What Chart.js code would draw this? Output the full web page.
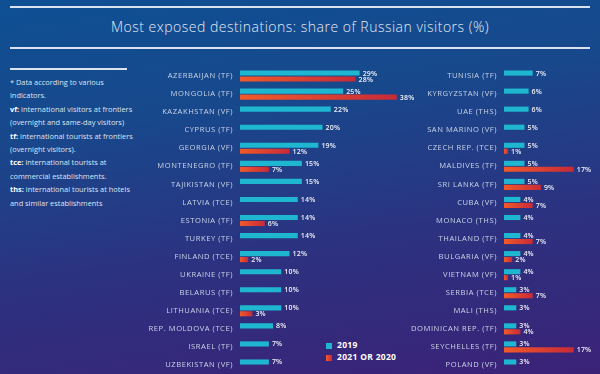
<!DOCTYPE html>
<html>
<head>
<meta charset="utf-8">
<script src="https://cdn.jsdelivr.net/npm/chart.js@4.4.1/dist/chart.umd.min.js"></script>
<style>
  html, body { margin: 0; padding: 0; }
  body {
    width: 600px; height: 374px; overflow: hidden; position: relative;
    background: linear-gradient(172deg, #0e4f93 0%, #18488c 30%, #2d3180 65%, #3b2277 100%);
    font-family: "Open Sans", sans-serif; color: #e6ebf4;
  }
  .rule { position: absolute; height: 2px; background: #d9e2ee; }
  #title {
    position: absolute; left: 0; width: 600px; top: 17px; text-align: center;
    font-size: 14px; font-weight: 300; color: #e4eaf3; letter-spacing: 0.5px;
  }
  #notes {
    position: absolute; left: 10px; top: 76px; width: 130px;
    font-size: 7.4px; line-height: 13.4px; color: #dde4f0;
  }
  #notes b { font-weight: 700; color: #fff; }
  .leg { position: absolute; left: 326px; font-size: 8.5px; font-weight: 700; color: #fff; letter-spacing: 0.3px; }
  .leg i { display: inline-block; width: 6px; height: 6px; margin-right: 5px; vertical-align: -0.5px; }
  canvas { position: absolute; }
</style>
</head>
<body>
<div class="rule" style="left:10px;width:580px;top:6px"></div>
<div id="title">Most exposed destinations: share of Russian visitors (%)</div>
<div class="rule" style="left:10px;width:580px;top:47px"></div>
<div class="rule" style="left:10px;width:117px;top:68px"></div>
<div id="notes">
  * Data according to various<br>indicators.<br>
  <b>vf:</b> international visitors at frontiers<br>(overnight and same-day visitors)<br>
  <b>tf:</b> international tourists at frontiers<br>(overnight visitors).<br>
  <b>tce:</b> international tourists at<br>commercial establishments.<br>
  <b>ths:</b> international tourists at hotels<br>and similar establishments
</div>
<div class="leg" style="top:339px"><i style="background:#1fb6cf"></i>2019</div>
<div class="leg" style="top:351px"><i style="background:linear-gradient(90deg,#f15a29,#c82a38)"></i>2021 OR 2020</div>

<div style="position:absolute;left:130px;top:67px;width:295px;height:307px"><canvas id="left"></canvas></div>
<div style="position:absolute;left:380px;top:67px;width:220px;height:307px"><canvas id="right"></canvas></div>

<script>
const leftLabels = ['AZERBAIJAN (TF)', 'MONGOLIA (TF)', 'KAZAKHSTAN (VF)', 'CYPRUS (TF)', 'GEORGIA (VF)',
  'MONTENEGRO (TF)', 'TAJIKISTAN (VF)', 'LATVIA (TCE)', 'ESTONIA (TF)', 'TURKEY (TF)', 'FINLAND (TCE)',
  'UKRAINE (TF)', 'BELARUS (TF)', 'LITHUANIA (TCE)', 'REP. MOLDOVA (TCE)', 'ISRAEL (TF)', 'UZBEKISTAN (VF)'];
const left2019 = [29, 25, 22, 20, 19, 15, 15, 14, 14, 14, 12, 10, 10, 10, 8, 7, 7];
const left2021 = [28, 38, null, null, 12, 7, null, null, 6, null, 2, null, null, 3, null, null, null];

const rightLabels = ['TUNISIA (TF)', 'KYRGYZSTAN (VF)', 'UAE (THS)', 'SAN MARINO (VF)', 'CZECH REP. (TCE)',
  'MALDIVES (TF)', 'SRI LANKA (TF)', 'CUBA (VF)', 'MONACO (THS)', 'THAILAND (TF)', 'BULGARIA (VF)',
  'VIETNAM (VF)', 'SERBIA (TCE)', 'MALI (THS)', 'DOMINICAN REP. (TF)', 'SEYCHELLES (TF)', 'POLAND (VF)'];
const right2019 = [7, 6, 6, 5, 5, 5, 5, 4, 4, 4, 4, 4, 3, 3, 3, 3, 3];
const right2021 = [null, null, null, null, 1, 17, 9, 7, null, 7, 2, 1, 7, null, 4, 17, null];

const CYAN = '#1fb6cf';

// orange -> red along each bar
function redFill(c) {
  const v = c.raw;
  if (v == null || !c.chart.scales.x) return '#e0452f';
  const xs = c.chart.scales.x;
  const x0 = xs.getPixelForValue(0), x1 = xs.getPixelForValue(v);
  if (!isFinite(x0) || !isFinite(x1) || x1 - x0 < 1) return '#e0452f';
  const g = c.chart.ctx.createLinearGradient(x0, 0, x1, 0);
  g.addColorStop(0, '#f15a29');
  g.addColorStop(1, '#c82a38');
  return g;
}

// wider, spaced lettering like the original
const spacing = {
  id: 'spacing',
  beforeDraw(chart) { chart.ctx.letterSpacing = '0.55px'; }
};

//value labels at bar ends
const valueLabels = {
  id: 'valueLabels',
  afterDatasetsDraw(chart) {
    const ctx = chart.ctx;
    ctx.save();
    ctx.font = '600 7px "Open Sans", sans-serif';
    ctx.letterSpacing = '0.2px';
    ctx.fillStyle = '#eef1f7';
    ctx.textAlign = 'left';
    ctx.textBaseline = 'middle';
    chart.data.datasets.forEach((ds, i) => {
      chart.getDatasetMeta(i).data.forEach((bar, j) => {
        const v = ds.data[j];
        if (v == null) return;
        ctx.fillText(v + '%', bar.x + 3, bar.y + 0.5);
      });
    });
    ctx.restore();
  }
};

function makeChart(id, labels, a, b, axisWidth, xMax, padRight) {
  return new Chart(document.getElementById(id), {
    type: 'bar',
    data: {
      labels: labels,
      datasets: [
        { label: '2019', data: a, backgroundColor: CYAN },
        { label: '2021 OR 2020', data: b, backgroundColor: redFill }
      ]
    },
    options: {
      indexAxis: 'y',
      responsive: true,
      maintainAspectRatio: false,
      animation: false,
      categoryPercentage: 0.66,
      barPercentage: 0.86,
      layout: { padding: { left: 0, right: padRight, top: 0, bottom: 0 } },
      scales: {
        x: { display: false, min: 0, max: xMax },
        y: {
          afterFit: s => { s.width = axisWidth; s.paddingTop = 0; s.paddingBottom = 0; },
          grid: { display: false, drawTicks: false },
          border: { display: false },
          ticks: {
            color: '#c9d3e6',
            padding: 7,
            autoSkip: false,
            font: { family: '"Open Sans", sans-serif', size: 7.6 }
          }
        }
      },
      plugins: {
        legend: { display: false },
        tooltip: { enabled: false }
      }
    },
    plugins: [spacing, valueLabels]
  });
}

makeChart('left', leftLabels, left2019, left2021, 110, 40, 20);
makeChart('right', rightLabels, right2019, right2021, 124, 20, 14);
</script>
</body>
</html>
